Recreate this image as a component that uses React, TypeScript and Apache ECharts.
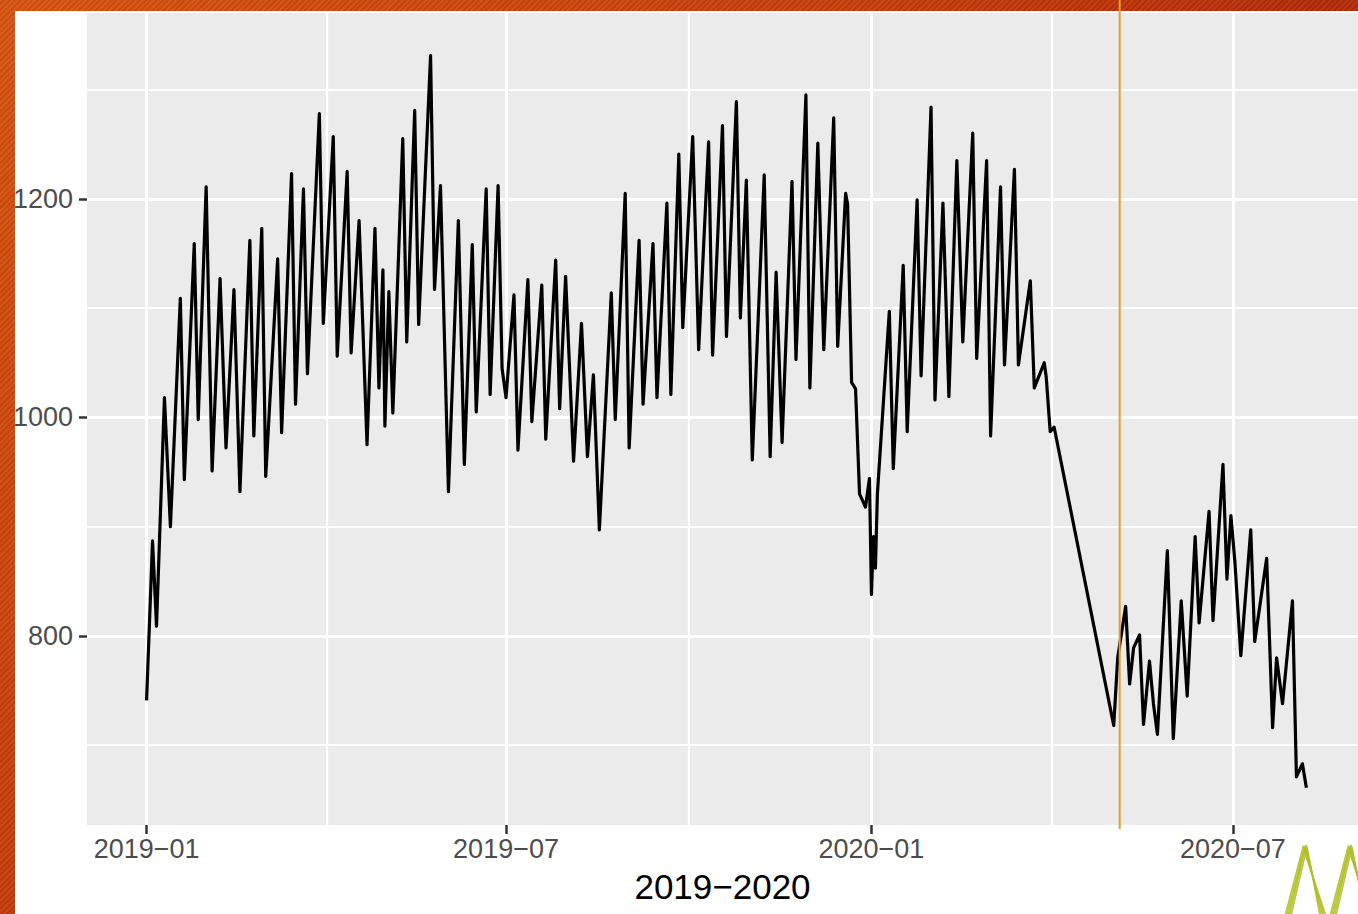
import React, { useEffect, useRef } from "react";
import * as echarts from "echarts";

// ---------- data ----------
const dates: string[] = [
  "2019-01-01", "2019-01-04", "2019-01-06", "2019-01-10", "2019-01-13", "2019-01-18", "2019-01-20",
  "2019-01-25", "2019-01-27", "2019-01-31", "2019-02-03", "2019-02-07", "2019-02-10", "2019-02-14",
  "2019-02-17", "2019-02-22", "2019-02-24", "2019-02-28", "2019-03-02", "2019-03-08", "2019-03-10",
  "2019-03-15", "2019-03-17", "2019-03-21", "2019-03-23", "2019-03-29", "2019-03-31", "2019-04-05",
  "2019-04-07", "2019-04-12", "2019-04-14", "2019-04-18", "2019-04-22", "2019-04-26", "2019-04-28",
  "2019-04-30", "2019-05-01", "2019-05-03", "2019-05-05", "2019-05-10", "2019-05-12", "2019-05-16",
  "2019-05-18", "2019-05-24", "2019-05-26", "2019-05-29", "2019-06-02", "2019-06-07", "2019-06-10",
  "2019-06-14", "2019-06-16", "2019-06-21", "2019-06-23", "2019-06-27", "2019-06-29", "2019-07-01",
  "2019-07-05", "2019-07-07", "2019-07-12", "2019-07-14", "2019-07-19", "2019-07-21", "2019-07-26",
  "2019-07-28", "2019-07-31", "2019-08-04", "2019-08-08", "2019-08-11", "2019-08-14", "2019-08-17",
  "2019-08-23", "2019-08-25", "2019-08-30", "2019-09-01", "2019-09-06", "2019-09-08", "2019-09-13",
  "2019-09-15", "2019-09-20", "2019-09-22", "2019-09-26", "2019-09-28", "2019-10-03", "2019-10-06",
  "2019-10-11", "2019-10-13", "2019-10-18", "2019-10-20", "2019-10-25", "2019-10-27", "2019-10-30",
  "2019-11-02", "2019-11-08", "2019-11-11", "2019-11-14", "2019-11-17", "2019-11-22", "2019-11-24",
  "2019-11-29", "2019-12-01", "2019-12-05", "2019-12-08", "2019-12-13", "2019-12-15", "2019-12-19",
  "2019-12-20", "2019-12-22", "2019-12-24", "2019-12-26", "2019-12-29", "2019-12-31", "2020-01-01",
  "2020-01-02", "2020-01-03", "2020-01-04", "2020-01-10", "2020-01-12", "2020-01-17", "2020-01-19",
  "2020-01-24", "2020-01-26", "2020-01-31", "2020-02-02", "2020-02-06", "2020-02-09", "2020-02-13",
  "2020-02-16", "2020-02-21", "2020-02-23", "2020-02-28", "2020-03-01", "2020-03-06", "2020-03-08",
  "2020-03-13", "2020-03-15", "2020-03-21", "2020-03-23", "2020-03-28", "2020-03-29", "2020-03-31",
  "2020-04-02", "2020-05-02", "2020-05-04", "2020-05-08", "2020-05-10", "2020-05-12", "2020-05-15",
  "2020-05-17", "2020-05-20", "2020-05-22", "2020-05-24", "2020-05-29", "2020-06-01", "2020-06-05",
  "2020-06-08", "2020-06-12", "2020-06-14", "2020-06-19", "2020-06-21", "2020-06-26", "2020-06-28",
  "2020-06-30", "2020-07-02", "2020-07-05", "2020-07-10", "2020-07-12", "2020-07-18", "2020-07-21",
  "2020-07-23", "2020-07-26", "2020-07-31", "2020-08-02", "2020-08-05", "2020-08-07",
];

const values: number[] = [
  741, 887, 809, 1018, 900, 1109, 943,
  1159, 998, 1211, 951, 1127, 972, 1117,
  932, 1162, 983, 1173, 946, 1145, 986,
  1223, 1012, 1209, 1040, 1278, 1086, 1257,
  1056, 1225, 1059, 1180, 975, 1173, 1027,
  1135, 992, 1115, 1004, 1255, 1069, 1281,
  1085, 1331, 1117, 1212, 932, 1180, 957,
  1158, 1005, 1209, 1021, 1212, 1045, 1018,
  1112, 970, 1126, 996, 1121, 980, 1144,
  1008, 1129, 960, 1086, 964, 1039, 897,
  1114, 998, 1205, 972, 1162, 1012, 1159,
  1018, 1196, 1021, 1241, 1082, 1257, 1062,
  1252, 1057, 1267, 1074, 1289, 1091, 1217,
  961, 1222, 964, 1133, 977, 1216, 1053,
  1295, 1027, 1251, 1062, 1274, 1065, 1205,
  1195, 1032, 1026, 930, 918, 944, 838,
  891, 862, 930, 1097, 953, 1139, 987,
  1199, 1038, 1284, 1016, 1196, 1019, 1235,
  1069, 1260, 1054, 1235, 983, 1211, 1048,
  1227, 1048, 1125, 1027, 1050, 1037, 987,
  991, 718, 780, 827, 756, 789, 801,
  719, 777, 738, 710, 878, 706, 832,
  745, 891, 812, 914, 814, 957, 852,
  910, 868, 782, 897, 795, 871, 716,
  780, 738, 832, 671, 683, 661,
];

const yMajorTicks: number[] = [800, 1000, 1200];
const yMinorTicks: number[] = [700, 900, 1100, 1300];
const xMajorTicks: string[] = ["2019-01-01", "2019-07-01", "2020-01-01", "2020-07-01"];
const xMinorTicks: string[] = ["2019-04-01 12:00", "2019-10-01", "2020-04-01"];
const yRange: number[] = [627, 1370];
const xRange: string[] = ["2018-12-02", "2020-09-02"];
const markerDate = "2020-05-05";
const xTitle = "2019\u22122020";

// ---------- helpers ----------
function toTime(s: string): number {
  const [d, t] = s.split(" ");
  const [y, m, dd] = d.split("-").map(Number);
  const [hh, mi] = t ? t.split(":").map(Number) : [0, 0];
  return new Date(y, m - 1, dd, hh, mi).getTime();
}

function fmtMonth(v: number): string {
  const d = new Date(v);
  const mm = String(d.getMonth() + 1).padStart(2, "0");
  return `${d.getFullYear()}\u2212${mm}`;
}

const FONT = "'Liberation Sans', Arial, Helvetica, sans-serif";

export default function App() {
  const ref = useRef<HTMLDivElement>(null);

  useEffect(() => {
    if (!ref.current) return;
    const chart = echarts.init(ref.current, undefined, { renderer: "svg" });

    const seriesData = dates.map((d, i) => [toTime(d), values[i]]);
    const xMajor = xMajorTicks.map(toTime);
    const xMinor = xMinorTicks.map(toTime);

    const gridLines: any[] = [
      ...yMinorTicks.map((v) => ({ yAxis: v, lineStyle: { width: 2.2 } })),
      ...yMajorTicks.map((v) => ({ yAxis: v, lineStyle: { width: 3 } })),
      ...xMinor.map((v) => ({ xAxis: v, lineStyle: { width: 2.2 } })),
      ...xMajor.map((v) => ({ xAxis: v, lineStyle: { width: 3 } })),
    ];

    chart.setOption({
      animation: false,
      backgroundColor: "transparent",
      textStyle: { fontFamily: FONT },
      grid: {
        left: 87,
        right: 0,
        top: 13,
        bottom: 89,
        show: true,
        backgroundColor: "#EBEBEB",
        borderWidth: 0,
        containLabel: false,
        outerBoundsMode: "none",
      },
      xAxis: {
        type: "value",
        scale: true,
        min: toTime(xRange[0]),
        max: toTime(xRange[1]),
        axisLine: { show: false },
        axisTick: {
          show: true,
          length: 9,
          customValues: xMajor,
          lineStyle: { color: "#333333", width: 2.5 },
        },
        axisLabel: {
          customValues: xMajor,
          formatter: (v: number) => fmtMonth(v),
          color: "#4D4D4D",
          fontSize: 27,
          fontFamily: FONT,
          margin: 10,
          hideOverlap: false,
          showMinLabel: true,
          showMaxLabel: true,
        },
        splitLine: { show: false },
        name: xTitle,
        nameLocation: "middle",
        nameGap: 44,
        nameTextStyle: { color: "#000000", fontSize: 35, fontFamily: FONT },
      },
      yAxis: {
        type: "value",
        min: yRange[0],
        max: yRange[1],
        axisLine: { show: false },
        axisTick: {
          show: true,
          length: 8,
          customValues: yMajorTicks,
          lineStyle: { color: "#333333", width: 2.5 },
        },
        axisLabel: {
          customValues: yMajorTicks,
          formatter: (v: number) => String(v),
          color: "#4D4D4D",
          fontSize: 27,
          fontFamily: FONT,
          margin: 14,
        },
        splitLine: { show: false },
      },
      series: [
        {
          type: "line",
          data: seriesData,
          showSymbol: false,
          symbol: "none",
          silent: true,
          z: 10,
          lineStyle: { color: "#000000", width: 3.2, join: "round" },
          markLine: {
            silent: true,
            z: 1,
            symbol: ["none", "none"],
            label: { show: false },
            emphasis: { disabled: true },
            lineStyle: { color: "#FFFFFF", type: "solid", width: 3 },
            data: gridLines,
          },
        },
      ],
    });

    const px = chart.convertToPixel({ xAxisIndex: 0 }, toTime(markerDate)) as number;

    const strands = [
      [0, 0],
      [2, 1],
      [-2, 1],
      [1, -1],
      [-1, 2],
    ];
    const logo: any[] = [];
    strands.forEach(([dx, dy]) => {
      logo.push({
        type: "polyline",
        z: 50,
        silent: true,
        shape: {
          points: [
            [1288 + dx * 1.5, 916],
            [1305 + dx, 846 + dy],
            [1323 - dx * 1.5, 916],
          ],
        },
        style: { stroke: "#B0BE26", lineWidth: 1.6, fill: null, opacity: 0.85 },
      });
      logo.push({
        type: "polyline",
        z: 50,
        silent: true,
        shape: {
          points: [
            [1333 + dx * 1.5, 916],
            [1350 + dx, 846 + dy],
            [1368 - dx * 1.5, 916],
          ],
        },
        style: { stroke: "#B0BE26", lineWidth: 1.6, fill: null, opacity: 0.85 },
      });
    });

    chart.setOption({
      graphic: [
        {
          type: "line",
          z: 100,
          silent: true,
          shape: { x1: px, y1: 0, x2: px, y2: 829 },
          style: { stroke: "#F09A2A", lineWidth: 2 },
        },
        ...logo,
      ],
    });

    return () => chart.dispose();
  }, []);

  return (
    <div
      style={{
        position: "fixed",
        left: 0,
        top: 0,
        width: 1358,
        height: 914,
        overflow: "hidden",
        background:
          "repeating-linear-gradient(135deg, rgba(255,255,255,0.05) 0px, rgba(255,255,255,0.05) 2px, rgba(0,0,0,0.05) 2px, rgba(0,0,0,0.05) 4px), linear-gradient(135deg, #D8530F 0%, #C63C0B 40%, #B42A08 60%, #9A1A04 100%)",
      }}
    >
      <div
        style={{
          position: "absolute",
          left: 15,
          top: 11,
          right: 0,
          bottom: 0,
          background: "#FFFFFF",
        }}
      />
      <div
        ref={ref}
        style={{ position: "absolute", left: 0, top: 0, width: 1358, height: 914, zIndex: 1 }}
      />
    </div>
  );
}
